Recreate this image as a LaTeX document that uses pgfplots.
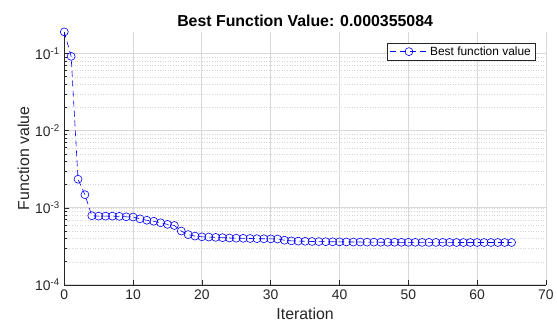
\documentclass[border=0pt]{standalone}
\usepackage{fontspec}
\setmainfont{Liberation Sans}
\usepackage{pgfplots}
\pgfplotsset{compat=1.18}
\pgfplotstableread{
it val
0 0.191
1 0.092
2 0.00235
3 0.00148
4 0.00079
5 0.00078
6 0.00078
7 0.00078
8 0.000775
9 0.000765
10 0.00076
11 0.00072
12 0.00069
13 0.00067
14 0.00064
15 0.00061
16 0.00059
17 0.00050
18 0.00045
19 0.00043
20 0.000421
21 0.000418
22 0.000414
23 0.000410
24 0.000406
25 0.000404
26 0.000402
27 0.000400
28 0.000398
29 0.000397
30 0.000396
31 0.000394
32 0.000380
33 0.000373
34 0.000370
35 0.000368
36 0.000366
37 0.000365
38 0.000364
39 0.000363
40 0.000362
41 0.000361
42 0.000360
43 0.000360
44 0.000359
45 0.000359
46 0.000358
47 0.000358
48 0.000358
49 0.000357
50 0.000357
51 0.000357
52 0.000356
53 0.000356
54 0.000356
55 0.000356
56 0.000356
57 0.000355
58 0.000355
59 0.000355
60 0.000355
61 0.000355
62 0.000355
63 0.000355
64 0.000355
65 0.000355084
}\datatable
\begin{document}
\begin{tikzpicture}
\begin{axis}[
  at={(0,0)}, anchor=south west,
  scale only axis,
  width=483.5bp, height=254bp,
  ymode=log,
  xmin=0, xmax=70, ymin=1e-4, ymax=0.191,
  xtick={0,10,...,70},
  ytick={1e-4,1e-3,1e-2,1e-1},
  yticklabels={10\textsuperscript{-4},10\textsuperscript{-3},10\textsuperscript{-2},10\textsuperscript{-1}},
  /pgf/number format/assume math mode=true,
  axis lines*=left,
  axis line style={-, black!85, line width=0.6bp},
  tick style={black!85, line width=0.6bp},
  tick align=inside,
  major tick length=5bp, minor tick length=3bp,
  grid=both,
  minor x tick num=0,
  major grid style={black!15, line width=0.9bp},
  minor grid style={black!16, line width=0.4bp, dash pattern=on 0.8bp off 1.8bp},
  ticklabel style={font=\fontsize{14}{16}\selectfont, text=black!85},
  yticklabel style={xshift=-1bp},
  xticklabel style={yshift=-1bp},
  xlabel={Iteration}, ylabel={Function value},
  label style={font=\fontsize{16}{18}\selectfont, text=black!85},
  xlabel style={yshift=-2bp},
  ylabel style={yshift=-1bp},
  title={\bfseries Best Function Value: 0.000355084},
  title style={font=\fontsize{16}{18}\selectfont, yshift=-4bp},
  clip=false,
  legend style={at={(1,1)}, anchor=north east, xshift=-11bp, yshift=-11bp,
    font=\fontsize{12}{14}\selectfont, draw=black!85, line width=0.5bp,
    inner xsep=2bp, inner ysep=1.5bp, row sep=0bp},
  legend cell align=left,
  legend image code/.code={\draw[#1, mark repeat=2, mark phase=2] plot coordinates {(0bp,0bp) (19bp,0bp) (38bp,0bp)};},
]
\addplot[blue, line width=0.6bp, dash pattern=on 6bp off 4bp, mark=o,
  mark size=4bp, mark options={solid, line width=0.6bp}] table[x=it, y=val] {\datatable};
\addlegendentry{Best function value}
\end{axis}
\path[use as bounding box] (-64.5bp,-43bp) rectangle (492.5bp,286bp);
\end{tikzpicture}
\end{document}
